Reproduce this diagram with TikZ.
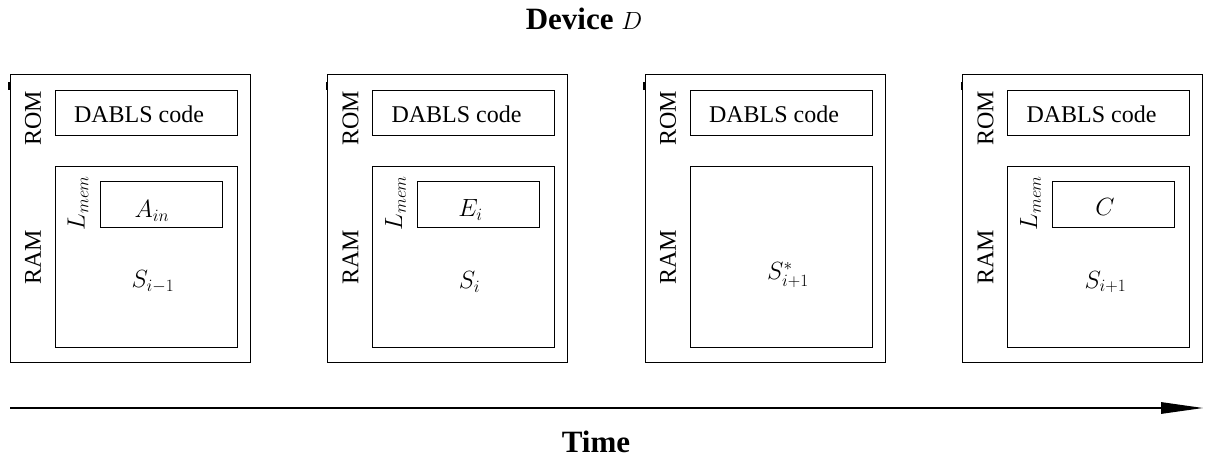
\documentclass[tikz,border=0pt]{standalone}
\usepackage{fontspec}
\setmainfont{Liberation Serif}
\usetikzlibrary{arrows.meta}
\tikzset{
  box/.style={draw, line width=1pt, inner sep=0pt, minimum width=#1},
  lbl/.style={font=\fontsize{24}{28}\selectfont, inner sep=0pt},
  mth/.style={font=\fontsize{26.5}{30}\selectfont, inner sep=0pt},
  big/.style={font=\fontsize{31}{36}\selectfont, inner sep=0pt, anchor=base},
}
\newcommand\mypanel[4]{%
  \begin{scope}[xshift=#1]
    \node[box=240, minimum height=287] (#2o) at (130,218.5) {};
    \draw[line width=2.5pt] ([yshift=-8]#2o.north west) -- ++(0,8);
    \node[box=182, minimum height=45] (#2rom) at (146,113.5) {};
    \node[box=182, minimum height=180] (#2ram) at (146,257) {};
    \node[lbl] (#2dc) at (139,114) {DABLS code};
    \node[lbl, rotate=90] (#2romt) at (33,118) {ROM};
    \node[lbl, rotate=90] (#2ramt) at (33,257) {RAM};
    #3
    #4
  \end{scope}}
\begin{document}
\begin{tikzpicture}[x=1pt,y=-1pt]
\useasboundingbox (0,0) rectangle (1209,457);
\node[big] (title) at (584,30) {\textbf{Device} $D$};
\mypanel{0}{a}{%
  \node[box=122, minimum height=45] (ain) at (161,204.5) {};
  \node[mth] (aint) at (152,211) {$A_{in}$};
  \node[mth, rotate=90] (alm) at (78,203) {$L_{mem}$};
}{\node[mth] (as) at (153,282) {$S_{i-1}$};}
\mypanel{317.5}{b}{%
  \node[box=122, minimum height=45] (bin) at (161,204.5) {};
  \node[mth] (bint) at (153,210) {$E_i$};
  \node[mth, rotate=90] (blm) at (78,203) {$L_{mem}$};
}{\node[mth] (bs) at (152,282) {$S_i$};}
\mypanel{635}{c}{}{\node[mth] (cs) at (153,275) {$S^*_{i+1}$};}
\mypanel{952.5}{d}{%
  \node[box=122, minimum height=45] (din) at (161,204.5) {};
  \node[mth] (dint) at (152.5,207) {$C$};
  \node[mth, rotate=90] (dlm) at (78,203) {$L_{mem}$};
}{\node[mth] (ds) at (153,282) {$S_{i+1}$};}
\coordinate (t0) at (10,408);
\coordinate (t1) at (1203,408);
\draw[line width=1.3pt, -{Triangle[length=42pt,width=11.5pt]}] (t0) -- (t1);
\node[big] (time) at (596,452) {\textbf{Time}};
\end{tikzpicture}
\end{document}
